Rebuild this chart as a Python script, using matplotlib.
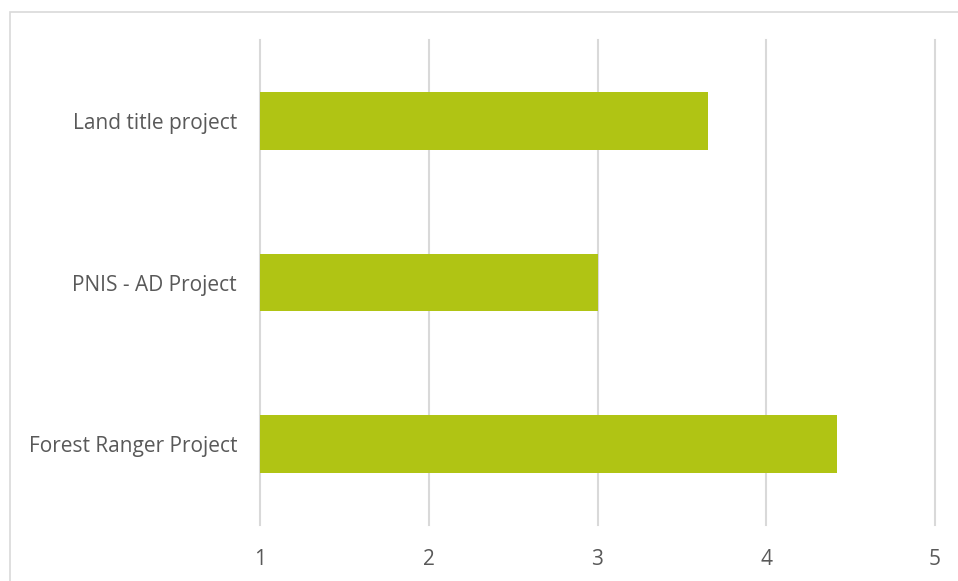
import matplotlib
matplotlib.use("Agg")
import matplotlib.pyplot as plt
from matplotlib.patches import Rectangle

categories = ["Forest Ranger Project", "PNIS - AD Project", "Land title project"]
values = [4.42, 3.0, 3.655]
xticks = [1, 2, 3, 4, 5]

plt.rcParams['font.family'] = ['Open Sans', 'DejaVu Sans']

W, H = 958, 581
fig = plt.figure(figsize=(W / 100, H / 100), dpi=100)

# outer chart border (extends beyond the right and bottom edges)
fig.patches.append(Rectangle((10 / W, -0.05), 1.1, 1 - 12 / H + 0.05,
                             transform=fig.transFigure, fill=False,
                             edgecolor='#d9d9d9', linewidth=1.2))

ax = fig.add_axes([260 / W, 1 - 525 / H, (935 - 260) / W, (525 - 40) / H])
y = list(range(len(categories)))
ax.barh(y, [v - 1 for v in values], left=1, height=0.355, color='#b0c414', zorder=3)
ax.set_xlim(1, 5)
ax.set_ylim(-0.5, len(categories) - 0.5)
ax.set_xticks(xticks)
ax.set_xticklabels([str(t) for t in xticks])
ax.set_yticks(y)
ax.set_yticklabels(categories)
ax.grid(axis='x', color='#d9d9d9', linewidth=1.5, zorder=0)
for gl in ax.get_xgridlines():
    gl.set_clip_on(False)
for s in ax.spines.values():
    s.set_visible(False)
ax.tick_params(axis='both', length=0, colors='#595959', labelsize=15)
ax.tick_params(axis='x', pad=17)
ax.tick_params(axis='y', pad=16.5)
for lab in ax.get_xticklabels() + ax.get_yticklabels():
    lab.set_color('#595959')

fig.savefig("out.png", dpi=100)
